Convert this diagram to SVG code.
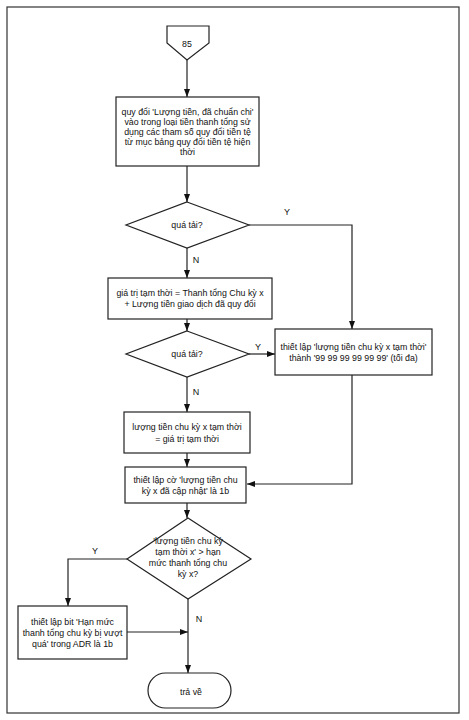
<svg xmlns="http://www.w3.org/2000/svg" width="469" height="720" viewBox="0 0 469 720">
<defs>
<marker id="ah" markerWidth="8" markerHeight="6" refX="8" refY="3" orient="auto" markerUnits="userSpaceOnUse">
<path d="M0,0 L8,3 L0,6 Z" fill="#111"/>
</marker>
<style>
.s{fill:#fff;stroke:#222;stroke-width:1.2}
.t{font-family:"Liberation Sans",Arial,sans-serif;font-size:8.8px;fill:#111;text-anchor:middle}
.l{font-family:"Liberation Sans",Arial,sans-serif;font-size:9px;fill:#111;text-anchor:middle}
.c{fill:none;stroke:#222;stroke-width:1.2}
</style>
</defs>
<rect x="0" y="0" width="469" height="720" fill="#fff"/>
<rect x="7" y="7" width="452" height="706" fill="none" stroke="#333" stroke-width="1.2"/>

<g id="connectors">
<path class="c" d="M187,60 L187,97" marker-end="url(#ah)"/>
<path class="c" d="M187,166 L187,202" marker-end="url(#ah)"/>
<path class="c" d="M249,225 L352,225 L352,329" marker-end="url(#ah)"/>
<path class="c" d="M187,248 L187,278" marker-end="url(#ah)"/>
<path class="c" d="M187,319 L187,331" marker-end="url(#ah)"/>
<path class="c" d="M249,354 L275,354" marker-end="url(#ah)"/>
<path class="c" d="M352,375 L352,484 L247,484" marker-end="url(#ah)"/>
<path class="c" d="M187,377 L187,412" marker-end="url(#ah)"/>
<path class="c" d="M187,453 L187,467" marker-end="url(#ah)"/>
<path class="c" d="M187,503 L187,518" marker-end="url(#ah)"/>
<path class="c" d="M127,559 L68,559 L68,606" marker-end="url(#ah)"/>
<path class="c" d="M127,632 L188,632" marker-end="url(#ah)"/>
<path class="c" d="M188,599 L188,673" marker-end="url(#ah)"/>
<text class="l" x="287" y="215">Y</text>
<text class="l" x="196" y="263">N</text>
<text class="l" x="258" y="350">Y</text>
<text class="l" x="196" y="395">N</text>
<text class="l" x="95" y="554">Y</text>
<text class="l" x="199" y="622">N</text>
</g>

<g id="n85">
<path class="s" d="M167,26 L209,26 L209,43 L187,60 L167,43 Z"/>
<text class="t" x="187" y="47">85</text>
</g>

<g id="n1">
<rect class="s" x="116" y="97" width="143" height="69"/>
<text class="t" x="187.5" y="115">quy đổi 'Lượng tiền, đã chuẩn chi'</text>
<text class="t" x="187.5" y="125">vào trong loại tiền thanh tổng sử</text>
<text class="t" x="187.5" y="135">dụng các tham số quy đổi tiền tệ</text>
<text class="t" x="187.5" y="145">từ mục bảng quy đổi tiền tệ hiện</text>
<text class="t" x="187.5" y="155">thời</text>
</g>

<g id="d1">
<path class="s" d="M187,202 L249,225 L187,248 L126,225 Z"/>
<text class="t" x="187" y="228">quá tải?</text>
</g>

<g id="n2">
<rect class="s" x="108" y="278" width="164" height="41"/>
<text class="t" x="190" y="296">giá trị tạm thời = Thanh tổng Chu kỳ x</text>
<text class="t" x="190" y="307">+ Lượng tiền giao dịch đã quy đổi</text>
</g>

<g id="d2">
<path class="s" d="M187,331 L249,354 L187,377 L126,354 Z"/>
<text class="t" x="187" y="357">quá tải?</text>
</g>

<g id="n3">
<rect class="s" x="275" y="329" width="157" height="46"/>
<text class="t" x="353.5" y="350">thiết lập 'lượng tiền chu kỳ x tạm thời'</text>
<text class="t" x="353.5" y="361">thành '99 99 99 99 99 99' (tối đa)</text>
</g>

<g id="n4">
<rect class="s" x="124" y="412" width="126" height="41"/>
<text class="t" x="187" y="430">lượng tiền chu kỳ x tạm thời</text>
<text class="t" x="187" y="442">= giá trị tạm thời</text>
</g>

<g id="n5">
<rect class="s" x="125" y="467" width="121" height="36"/>
<text class="t" x="185.5" y="483">thiết lập cờ 'lượng tiền chu</text>
<text class="t" x="185.5" y="494">kỳ x đã cập nhật' là 1b</text>
</g>

<g id="d3">
<path class="s" d="M188,518 L251,559 L188,599 L127,559 Z"/>
<text class="t" x="188" y="544">'lượng tiền chu kỳ</text>
<text class="t" x="188" y="555">tạm thời x' &gt; hạn</text>
<text class="t" x="188" y="566">mức thanh tổng chu</text>
<text class="t" x="188" y="577">kỳ x?</text>
</g>

<g id="n6">
<rect class="s" x="18" y="606" width="109" height="53"/>
<text class="t" x="72.5" y="625">thiết lập bit 'Hạn mức</text>
<text class="t" x="72.5" y="636">thanh tổng chu kỳ bị vượt</text>
<text class="t" x="72.5" y="647">quá' trong ADR là 1b</text>
</g>

<g id="end">
<rect class="s" x="148" y="673" width="83" height="35" rx="17.5" ry="17.5"/>
<text class="t" x="191" y="695">trả về</text>
</g>
</svg>
